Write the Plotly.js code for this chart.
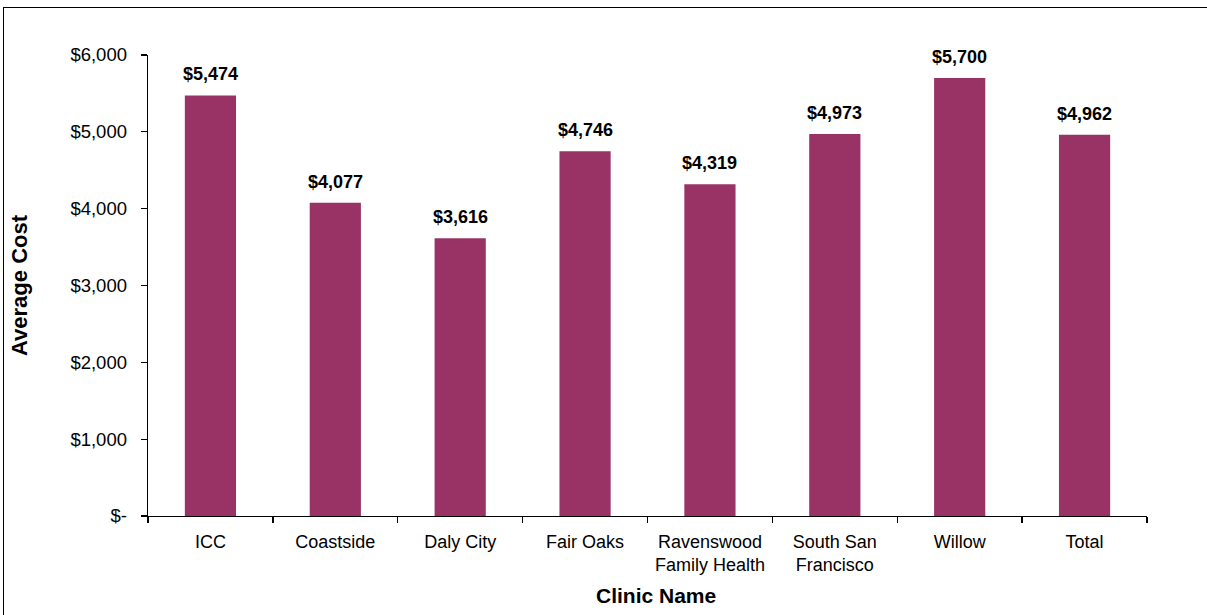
<!DOCTYPE html>
<html>
<head>
<meta charset="utf-8">
<script src="https://cdn.plot.ly/plotly-3.0.1.min.js"></script>
<style>
  html, body { margin: 0; padding: 0; width: 1207px; height: 615px; overflow: hidden; background: #fff; }
  #chart { position: absolute; left: 0; top: 0; width: 1207px; height: 615px; }
  #frame { position: absolute; left: 3px; top: 7px; width: 1250px; height: 700px; border: 1.5px solid #000; pointer-events: none; }
</style>
</head>
<body>
<div id="chart"></div>
<div id="frame"></div>
<script>
const categories = ["ICC", "Coastside", "Daly City", "Fair Oaks", "Ravenswood<br>Family Health", "South San<br>Francisco", "Willow", "Total"];
const averageCost = [5474, 4077, 3616, 4746, 4319, 4973, 5700, 4962];
const yTickVals = [0, 1000, 2000, 3000, 4000, 5000, 6000];
const yTickText = ["$-", "$1,000", "$2,000", "$3,000", "$4,000", "$5,000", "$6,000"];
const xTitle = "Clinic Name";
const yTitle = "Average Cost";

const fmt = v => "$" + v.toLocaleString("en-US");
const FONT = "Liberation Sans, Arial, sans-serif";

const trace = {
  type: "bar",
  x: categories,
  y: averageCost,
  marker: { color: "#993366", line: { width: 0 } },
  hoverinfo: "skip"
};

const annotations = categories.map((c, i) => ({
  x: c, y: averageCost[i], xref: "x", yref: "y",
  text: "<b>" + fmt(averageCost[i]) + "</b>",
  showarrow: false, yanchor: "bottom", yshift: 9,
  font: { family: FONT, size: 18, color: "#000" }
}));
annotations.push({
  x: 0.509, y: -0.1714, xref: "paper", yref: "paper",
  xanchor: "center", yanchor: "middle",
  text: "<b>" + xTitle + "</b>", showarrow: false,
  font: { family: FONT, size: 21, color: "#000" }
});

const layout = {
  width: 1207, height: 615,
  margin: { l: 148, r: 60, t: 55, b: 99 },
  paper_bgcolor: "#fff", plot_bgcolor: "#fff",
  showlegend: false,
  bargap: 0.59,
  font: { family: FONT, color: "#000" },
  xaxis: {
    type: "category",
    showline: true, linecolor: "#000", linewidth: 1.3,
    ticks: "outside", tickson: "boundaries", ticklen: 6, tickcolor: "#000", tickwidth: 1.3,
    ticklabelstandoff: 9,
    tickfont: { family: FONT, size: 18, color: "#000" },
    showgrid: false, zeroline: false
  },
  yaxis: {
    range: [0, 6000],
    tickvals: yTickVals, ticktext: yTickText,
    showline: true, linecolor: "#000", linewidth: 1.3,
    ticks: "outside", ticklen: 6, tickcolor: "#000", tickwidth: 1.3,
    ticklabelstandoff: 10,
    tickfont: { family: FONT, size: 18.5, color: "#000" },
    showgrid: false, zeroline: false,
    title: { text: "<b>" + yTitle + "</b>", font: { family: FONT, size: 22, color: "#000" }, standoff: 36 }
  },
  annotations: annotations
};

Plotly.newPlot("chart", [trace], layout, { displayModeBar: false, staticPlot: true });
</script>
</body>
</html>
